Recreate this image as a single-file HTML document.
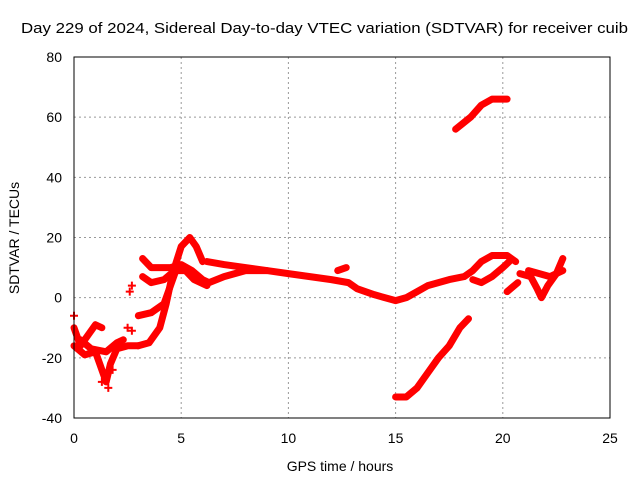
<!DOCTYPE html>
<html><head><meta charset="utf-8"><style>
body{margin:0;background:#fff}
svg text{font-family:"Liberation Sans",sans-serif;font-size:14px;fill:#000}
</style></head><body>
<svg id="c" width="640" height="480">
<text x="21" y="33" textLength="607" lengthAdjust="spacingAndGlyphs" style="font-size:15px">Day 229 of 2024, Sidereal Day-to-day VTEC variation (SDTVAR) for receiver cuib</text>
<text x="340" y="471" text-anchor="middle">GPS time / hours</text>
<text transform="translate(19,238) rotate(-90)" text-anchor="middle">SDTVAR / TECUs</text>
<g id="grid"></g><g id="marks"></g>
<rect x="74" y="57" width="536" height="361" fill="none" stroke="#000"/>
</svg>
<script>
const xTicks=[0,5,10,15,20,25];
const yTicks=[-40,-20,0,20,40,60,80];
const tracks=[
[[3.0,-16],[3.5,-15],[4.0,-10],[4.3,-2],[4.6,8],[5.0,17],[5.4,20],[5.7,17],[6.0,12]],
[[3.2,13],[3.6,10],[4.5,10],[5.0,11],[5.5,9],[6.0,6],[6.3,5]],
[[3.2,7],[3.6,5],[4.2,6],[4.7,9],[5.2,9],[5.6,6],[6.2,4]],
[[3.0,-6],[3.6,-5],[4.2,-2],[4.5,4],[4.8,10]],
[[6.2,12],[7,11],[8,10],[9,9],[10,8],[11,7],[12,6],[12.8,5],[13.2,3],[14,1],[15,-1],[15.5,0],[16,2],[16.5,4],[17,5],[17.5,6],[18.2,7],[18.6,9],[19,12],[19.5,14],[20.2,14],[20.6,12]],
[[6.3,5],[7,7],[8,9],[9,9]],
[[18.6,6],[19,5],[19.5,7],[20,10],[20.3,12]],
[[20.2,2],[20.7,5]],
[[20.8,8],[21.3,7],[21.6,3],[21.8,0],[22.1,4],[22.5,8],[22.8,13]],
[[21.2,9],[21.7,8],[22.2,7],[22.8,9]],
[[15,-33],[15.5,-33],[16,-30],[16.5,-25],[17,-20],[17.5,-16],[18,-10],[18.4,-7]],
[[17.8,56],[18.5,60],[19,64],[19.5,66],[20.2,66]],
[[0,-10],[0.3,-16],[0.7,-12],[1,-9],[1.3,-10]],
[[0,-16],[0.5,-19],[1,-18],[1.2,-22],[1.5,-28],[1.7,-22],[2,-17],[2.5,-16],[3,-16]],
[[0.3,-14],[0.8,-17],[1.5,-18],[2,-15],[2.3,-14]],
[[12.3,9],[12.7,10]]
];
const scatter=[[0,-6],[2.7,4],[2.6,2],[2.5,-10],[2.7,-11],[1.8,-24],[1.3,-28],[1.6,-30]];
const X=v=>74+v*536/25, Y=v=>418-(v+40)*361/120;
const ns="http://www.w3.org/2000/svg",g=document.getElementById('grid'),m=document.getElementById('marks');
function mk(t,a,p){const e=document.createElementNS(ns,t);for(const k in a)e.setAttribute(k,a[k]);p.appendChild(e);return e;}
xTicks.forEach(t=>{
 if(t>0&&t<25){const l=mk('line',{x1:X(t),x2:X(t),y1:57,y2:418,stroke:'#999','stroke-dasharray':'2,3'},g);
 
 }
 const tx=mk('text',{x:X(t),y:443,'text-anchor':'middle'},g);tx.textContent=t;
 
 
});
yTicks.forEach(t=>{
 if(t>-40&&t<80){const l=mk('line',{x1:74,x2:610,y1:Y(t),y2:Y(t),stroke:'#999','stroke-dasharray':'2,3'},g);
 
 }
 const tx=mk('text',{x:62,y:Y(t)+5,'text-anchor':'end'},g);tx.textContent=t;
 
 
});
tracks.forEach(tr=>{
 const p=mk('polyline',{points:tr.map(d=>X(d[0])+','+Y(d[1])).join(' '),fill:'none',stroke:'#f00','stroke-width':7,'stroke-linejoin':'round','stroke-linecap':'round'},m);
 
 
});
scatter.forEach(d=>{
 const p=mk('path',{d:`M${X(d[0])-4},${Y(d[1])}h8M${X(d[0])},${Y(d[1])-4}v8`,stroke:'#f00','stroke-width':2},m);
 
 
});
</script>
</body></html>
